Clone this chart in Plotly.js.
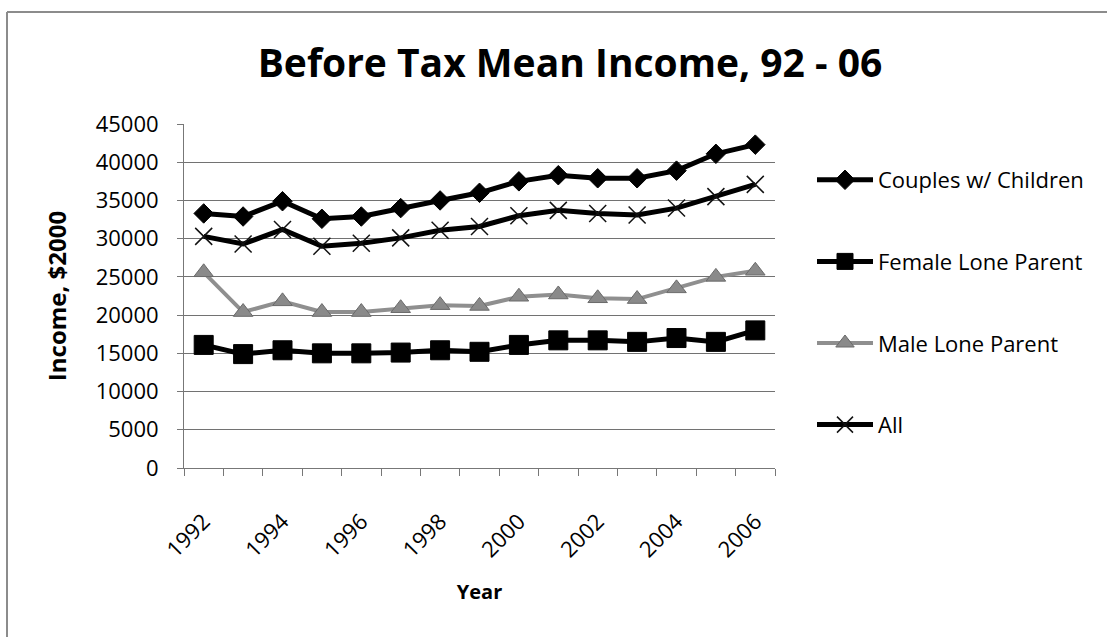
<!DOCTYPE html>
<html>
<head>
<meta charset="utf-8">
<script src="https://cdn.plot.ly/plotly-3.0.1.min.js"></script>
<style>
  html, body { margin: 0; padding: 0; background: #fff; }
  #chart { width: 1107px; height: 637px; }
</style>
</head>
<body>
<div id="chart"></div>
<script>
// Before-tax mean income by family type, 1992-2006 (constant 2000 dollars)
const years = [1992, 1993, 1994, 1995, 1996, 1997, 1998, 1999, 2000, 2001, 2002, 2003, 2004, 2005, 2006];
const yearTicks = [1992, 1994, 1996, 1998, 2000, 2002, 2004, 2006];
const seriesNames = ["Couples w/ Children", "Female Lone Parent", "Male Lone Parent", "All"];

const couplesWithChildren = [33300, 32900, 34900, 32600, 32900, 34000, 35000, 36000, 37500, 38300, 37900, 37900, 38900, 41100, 42300];
const femaleLoneParent   = [16100, 14900, 15400, 15000, 15000, 15100, 15400, 15200, 16100, 16700, 16700, 16500, 17000, 16500, 18000];
const maleLoneParent     = [25600, 20400, 21800, 20400, 20400, 20900, 21300, 21200, 22400, 22700, 22200, 22100, 23500, 25000, 25800];
const allFamilies        = [30300, 29300, 31200, 29000, 29400, 30100, 31100, 31600, 33000, 33700, 33300, 33100, 34000, 35500, 37100];

const W = 1107, H = 637;
const M = { l: 184, r: 332, t: 124, b: 169 };
const plotW = W - M.l - M.r, plotH = H - M.t - M.b;
// convert page pixels to paper fractions for the outer frame and legend
const px = x => (x - M.l) / plotW;
const py = y => (H - M.b - y) / plotH;

const FONT = "Open Sans, Liberation Sans, sans-serif";

const traces = [
  {
    x: years, y: couplesWithChildren, name: seriesNames[0], type: "scatter", mode: "lines+markers",
    legendgroup: "g1",
    line: { color: "#000", width: 5 },
    marker: { symbol: "diamond", size: 15, color: "#000", line: { color: "#000", width: 1 } }
  },
  {
    x: years, y: femaleLoneParent, name: seriesNames[1], type: "scatter", mode: "lines+markers",
    legendgroup: "g2",
    line: { color: "#000", width: 5 },
    marker: { symbol: "square", size: 19, color: "#000", line: { color: "#000", width: 1 } }
  },
  {
    x: years, y: maleLoneParent, name: seriesNames[2], type: "scatter", mode: "lines+markers",
    legendgroup: "g3",
    line: { color: "#8f8f8f", width: 4 },
    marker: { symbol: "triangle-up", size: 17, color: "#8a8a8a", line: { color: "#6a6a6a", width: 1 } }
  },
  {
    x: years, y: allFamilies, name: seriesNames[3], type: "scatter", mode: "lines+markers",
    legendgroup: "g4",
    line: { color: "#000", width: 5 },
    marker: { symbol: "x-thin", size: 17, color: "#000", line: { color: "#111", width: 1.5 } }
  }
];

const layout = {
  width: W, height: H,
  margin: M,
  paper_bgcolor: "#fff", plot_bgcolor: "#fff",
  font: { family: FONT, color: "#000", size: 22 },
  title: {
    text: "<b>Before Tax Mean Income, 92 - 06</b>",
    font: { family: FONT, size: 39, color: "#000" },
    xref: "container", yref: "container",
    x: 570 / W, xanchor: "center",
    y: 1 - 63 / H, yanchor: "middle"
  },
  xaxis: {
    range: [1991.5, 2006.5],
    tickmode: "array", tickvals: yearTicks, ticktext: yearTicks.map(String),
    tickangle: -45,
    ticks: "outside", ticklen: 7, tickcolor: "rgba(0,0,0,0)",
    ticklabelstandoff: 24,
    tickfont: { family: FONT, size: 22, color: "#000" },
    minor: { tick0: 1991.5, dtick: 1, ticks: "outside", ticklen: 7, tickcolor: "#777", tickwidth: 1, showgrid: false },
    showgrid: false, zeroline: false,
    showline: true, linecolor: "#777", linewidth: 1,
    title: { text: "<b>Year</b>", font: { family: FONT, size: 20, color: "#000" }, standoff: 22 }
  },
  yaxis: {
    range: [0, 45000], dtick: 5000, tick0: 0,
    tickformat: "d",
    ticks: "outside", ticklen: 6, tickcolor: "#777",
    ticklabelstandoff: 14,
    tickfont: { family: FONT, size: 22, color: "#000" },
    showgrid: true, gridcolor: "#727272", gridwidth: 1,
    zeroline: false,
    showline: true, linecolor: "#777", linewidth: 1,
    title: { text: "<b>Income, $2000</b>", font: { family: FONT, size: 24, color: "#000" }, standoff: 22 }
  },
  legend: {
    x: px(812), xanchor: "left",
    y: py(159), yanchor: "top",
    traceorder: "grouped", tracegroupgap: 50,
    font: { family: FONT, size: 22, color: "#000" },
    bgcolor: "rgba(0,0,0,0)", borderwidth: 0,
    itemwidth: 56
  },
  shapes: [
    { type: "line", xref: "paper", yref: "paper", x0: px(7), x1: px(W), y0: py(12), y1: py(12),
      line: { color: "#8c8c8c", width: 2 } },
    { type: "line", xref: "paper", yref: "paper", x0: px(7), x1: px(7), y0: py(12), y1: py(H),
      line: { color: "#8c8c8c", width: 2 } }
  ],
  showlegend: true
};

Plotly.newPlot("chart", traces, layout, { displayModeBar: false, staticPlot: true });
</script>
</body>
</html>
